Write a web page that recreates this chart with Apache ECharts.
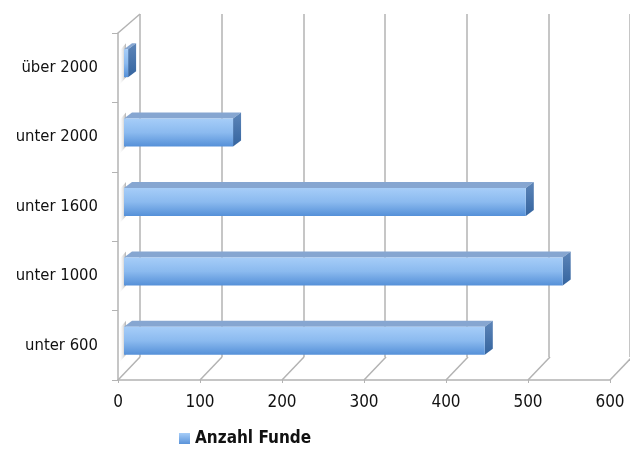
<!DOCTYPE html>
<html><head><meta charset="utf-8">
<script src="https://cdn.jsdelivr.net/npm/echarts@6/dist/echarts.min.js"></script>
<style>html,body{margin:0;padding:0;background:#fff}#c{width:630px;height:458px}</style>
</head><body><div id="c"></div>
<script>
var categories = ['unter 600', 'unter 1000', 'unter 1600', 'unter 2000', 'über 2000'];
var values = [440, 535, 490, 133, 5];
var xTicks = [0, 100, 200, 300, 400, 500, 600];
var seriesName = 'Anzahl Funde';

var FONT = '"Liberation Sans Narrow", "DejaVu Sans Condensed", "Arial Narrow", sans-serif';
var DX = 22, DY = -23;   // depth of the 3D box
var chart = echarts.init(document.getElementById('c'));

var faceGrad = new echarts.graphic.LinearGradient(0, 0, 0, 1, [
  {offset: 0, color: '#a6cdf8'}, {offset: 0.5, color: '#8bbaef'}, {offset: 1, color: '#5590d8'}]);
var sideGrad = new echarts.graphic.LinearGradient(0, 0, 0, 1, [
  {offset: 0, color: '#5d85b8'}, {offset: 1, color: '#34649f'}]);

function renderBar(params, api) {
  var idx = api.value(1);
  var p0 = api.coord([0, idx]);
  var p1 = api.coord([api.value(0), idx]);
  var x0 = p0[0] + 6, x1 = p1[0] + 6;
  var yc = p0[1] - 4.5, h = 28;
  var yt = yc - h / 2, yb = yc + h / 2;
  var dx = 8, dy = -6;
  return {type: 'group', children: [
    {type: 'polygon', shape: {points: [[p0[0] + 1, yt + 2], [x0 + 2, yt - 6], [x0 + 2, yb], [p0[0] + 1, yb + 8]]},
      style: {fill: new echarts.graphic.LinearGradient(0, 0, 1, 0, [
        {offset: 0, color: 'rgba(255,255,255,0)'}, {offset: 1, color: 'rgba(100,100,100,0.5)'}])}},
    {type: 'polygon', shape: {points: [[x0, yt], [x1, yt], [x1 + dx, yt + dy], [x0 + dx, yt + dy]]},
      style: {fill: '#86a6d1'}},
    {type: 'polygon', shape: {points: [[x1, yt], [x1 + dx, yt + dy], [x1 + dx, yb + dy], [x1, yb]]},
      style: {fill: sideGrad}},
    {type: 'rect', shape: {x: x0, y: yt, width: Math.max(x1 - x0, 0.5), height: h},
      style: {fill: faceGrad}}
  ]};
}

function renderFloor(params, api) {
  var p = api.coord([api.value(0), 0]);
  var bx = p[0], by = p[1] + api.size([0, 1])[1] / 2;
  var children = [{type: 'line', shape: {x1: bx, y1: by, x2: bx + DX, y2: by + DY},
    style: {stroke: '#b3b3b3', lineWidth: 1.5}}];
  if (api.value(0) === 0) {
    var top = by - api.size([0, 1])[1] * categories.length;
    children.push({type: 'line', shape: {x1: bx, y1: top, x2: bx + DX, y2: top + DY + 4},
      style: {stroke: '#b3b3b3', lineWidth: 1.5}});
  }
  return {type: 'group', children: children};
}

chart.setOption({
  animation: false,
  backgroundColor: '#fff',
  textStyle: {fontFamily: FONT},
  grid: [
    {left: 118, right: 20, top: 33, bottom: 78},
    {left: 140, right: -2, top: 14, bottom: 101}
  ],
  xAxis: [
    {gridIndex: 0, type: 'value', min: 0, max: 600, interval: 100,
     axisLine: {show: true, lineStyle: {color: '#b3b3b3', width: 1.5}},
     axisTick: {show: true, length: 3, lineStyle: {color: '#b3b3b3'}},
     splitLine: {show: false},
     axisLabel: {color: '#111', fontSize: 17, fontFamily: FONT, margin: 14,
       formatter: function (v) { return xTicks.indexOf(v) >= 0 ? String(v) : ''; }}},
    {gridIndex: 1, type: 'value', min: 0, max: 600, interval: 100,
     axisLine: {show: false}, axisTick: {show: false}, axisLabel: {show: false},
     splitLine: {show: true, lineStyle: {color: '#b3b3b3', width: 1.5}}}
  ],
  yAxis: [
    {gridIndex: 0, type: 'category', data: categories,
     axisLine: {show: true, lineStyle: {color: '#b3b3b3', width: 1.5}},
     axisTick: {show: true, length: 6, lineStyle: {color: '#b3b3b3'}},
     axisLabel: {color: '#111', fontSize: 16.5, fontFamily: FONT, margin: 20}},
    {gridIndex: 1, type: 'category', data: categories, show: false}
  ],
  legend: {
    bottom: 6, left: 174, itemWidth: 11, itemHeight: 11, itemGap: 6,
    data: [{name: seriesName, icon: 'rect'}],
    textStyle: {fontFamily: FONT, fontSize: 17, fontWeight: 'bold', color: '#111'}
  },
  series: [
    {type: 'custom', name: 'floor', xAxisIndex: 0, yAxisIndex: 0, silent: true,
     renderItem: renderFloor, data: xTicks.map(function (v) { return [v]; }), z: 1},
    {type: 'custom', name: seriesName, xAxisIndex: 0, yAxisIndex: 0,
     itemStyle: {color: new echarts.graphic.LinearGradient(0, 0, 0, 1, [
       {offset: 0, color: '#a6cdf8'}, {offset: 1, color: '#5a93d9'}])},
     renderItem: renderBar, encode: {x: 0, y: 1},
     data: values.map(function (v, i) { return [v, i]; }), z: 5}
  ]
});
</script></body></html>
